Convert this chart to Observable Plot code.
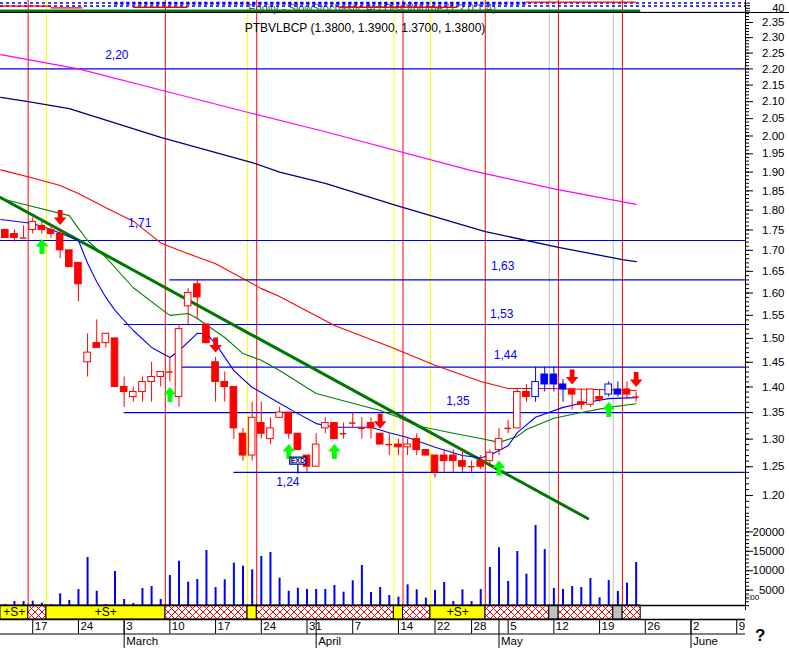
<!DOCTYPE html>
<html><head><meta charset="utf-8">
<script src="https://cdn.jsdelivr.net/npm/d3@7"></script>
<script src="https://cdn.jsdelivr.net/npm/@observablehq/plot@0.6"></script>
<style>
html,body{margin:0;padding:0;background:#fff;}
#chart{position:relative;width:789px;height:648px;overflow:hidden;background:#fff;}
#chart svg{position:absolute;left:0;}
.hline{position:absolute;left:0;width:789px;height:1px;background:#000;}
</style></head><body>
<svg width="0" height="0" style="position:absolute">
  <defs>
    <pattern id="hatch" patternUnits="userSpaceOnUse" width="7" height="7">
      <rect width="7" height="7" fill="#fff"></rect>
      <path d="M0,0L7,7M7,0L0,7" stroke="#ff0000" stroke-width="1"></path>
    </pattern>
  </defs>
</svg>
<div id="chart"></div>
<script>
// ---------------- DATA ----------------
const title = "PTBVLBCP (1.3800, 1.3900, 1.3700, 1.3800)";
const open  = [1.75,1.74,1.73,1.75,1.76,1.75,1.74,1.70,1.67,1.45, 1.49,1.49,1.50,1.40,1.38,1.39,1.41,1.42,1.43,1.38, 1.57,1.62,1.53,1.45,1.41,1.40,1.31,1.27,1.33,1.30, 1.34,1.35,1.31,1.27,1.25,1.32,1.33,1.31,1.33,1.32, 1.33,1.31,1.29,1.29,1.285,1.30,1.28,1.27,1.27,1.27, 1.26,1.25,1.26,1.26,1.28,1.32,1.32,1.39,1.38,1.425, 1.425,1.405,1.395,1.37,1.365,1.38,1.385,1.395,1.395,1.38];
const high  = [1.75,1.75,1.76,1.78,1.77,1.76,1.75,1.70,1.67,1.51, 1.54,1.51,1.50,1.42,1.40,1.42,1.45,1.43,1.46,1.53, 1.61,1.63,1.53,1.46,1.43,1.40,1.32,1.37,1.37,1.34, 1.36,1.35,1.31,1.27,1.31,1.34,1.33,1.33,1.35,1.34, 1.34,1.31,1.31,1.30,1.30,1.31,1.28,1.27,1.28,1.28, 1.28,1.26,1.27,1.28,1.32,1.335,1.395,1.405,1.44,1.44, 1.44,1.415,1.395,1.395,1.395,1.395,1.41,1.41,1.41,1.39];
const low   = [1.73,1.72,1.73,1.74,1.74,1.73,1.68,1.66,1.58,1.42, 1.48,1.48,1.40,1.36,1.37,1.37,1.37,1.40,1.41,1.36, 1.53,1.54,1.49,1.37,1.37,1.30,1.26,1.26,1.30,1.29, 1.34,1.30,1.28,1.24,1.25,1.31,1.30,1.30,1.32,1.30, 1.30,1.29,1.27,1.27,1.27,1.27,1.27,1.23,1.24,1.24, 1.24,1.24,1.245,1.25,1.27,1.31,1.32,1.37,1.37,1.39, 1.39,1.37,1.355,1.355,1.36,1.37,1.38,1.38,1.375,1.37];
const close = [1.73,1.73,1.73,1.77,1.75,1.74,1.70,1.66,1.62,1.47, 1.48,1.51,1.40,1.39,1.39,1.41,1.42,1.43,1.43,1.52, 1.60,1.59,1.49,1.41,1.40,1.32,1.27,1.34,1.31,1.32, 1.35,1.31,1.28,1.25,1.29,1.33,1.30,1.31,1.33,1.32, 1.32,1.29,1.29,1.285,1.29,1.28,1.27,1.24,1.26,1.26, 1.25,1.25,1.25,1.275,1.30,1.32,1.39,1.38,1.41,1.405, 1.405,1.395,1.385,1.365,1.395,1.375,1.405,1.385,1.385,1.38];
const volume = [1300,2060,2060,2140,1620,1290,4040,2320,5150,13400, 4720,1200,9790,2580,1550,5410,5930,2580,8760,12450, 7040,7730,15200,5670,7650,11930,11160,10230,13660,14690, 8070,4720,5490,5150,5150,5150,6180,4470,7400,11340, 4380,5670,3610,3180,6360,5070,2920,4900,6960,2060, 5070,2060,5150,10820,15900,7220,14950,9100,21650,15460, 5410,5150,5930,5670,7990,3010,7470,4640,6780,12110];
const blueCandles = [58,59,60,61,66,67];
const buySignals  = [4,18,31,36,54,66];
const sellSignals = [6,23,41,62,69];
const exDividend  = [32];

// moving averages (candle index, price)
const magentaIdx = [-0.5,8,17,27,35,51,60,69];
const magentaVal = [2.245,2.20,2.135,2.065,2.012,1.904,1.855,1.815];
const navyIdx = [-0.5,2.5,7,17,27,30,35,43,52.5,60.5,67.5,69];
const navyVal = [2.113,2.100,2.079,1.996,1.926,1.900,1.870,1.810,1.746,1.707,1.678,1.673];
const redIdx = [-0.5,3,6,8,11,14,17,19,23,28,30,36,42,47,52,55,60,69];
const redVal = [1.906,1.884,1.864,1.843,1.806,1.772,1.718,1.700,1.668,1.610,1.592,1.528,1.483,1.444,1.411,1.397,1.397,1.393];
const greenIdx = [-0.5,2,7,8,9,11,14,17,18,20,21,24,26,28,30,34,38,41,43,45,49,52,54,56,57,60,63,66,69];
const greenVal = [1.830,1.815,1.786,1.754,1.724,1.683,1.612,1.565,1.550,1.554,1.543,1.502,1.468,1.454,1.433,1.387,1.368,1.354,1.341,1.325,1.311,1.301,1.294,1.305,1.318,1.339,1.350,1.360,1.367];
const blueIdx = [-0.5,3,5,8,9,10,11,12,14,16,18,19,21,22,23,25,27,28,30,32,34,36,38,40,42,44,47,50,52,53,54,55,56,58,61,63,66,69];
const blueVal = [1.776,1.766,1.751,1.724,1.669,1.626,1.590,1.561,1.517,1.481,1.460,1.474,1.511,1.510,1.489,1.433,1.399,1.389,1.368,1.348,1.329,1.322,1.322,1.322,1.312,1.303,1.285,1.270,1.266,1.270,1.279,1.288,1.312,1.341,1.360,1.368,1.377,1.379];
const trendIdx = [-0.525,63.7];
const trendVal = [1.8325,1.1614];

// support / resistance levels
const levelVal   = [2.20,1.724,1.63,1.53,1.44,1.35,1.24];
const levelText  = ["2,20","1,71","1,63","1,53","1,44","1,35","1,24"];
const levelFrom  = [-0.525,-0.525,18,13,19,13,25];
const levelLabelAt = [12.2,14.7,54.4,54.3,54.7,49.5,30.9];

// signal band (segment start index, type)
const bandFrom = [-0.525,2.5,4.5,17.5,26.5,27.5,42.5,43.5,46.5,52.5,59.5,60.5,66.5,67.5];
const bandEnd  = 69.5;
const bandType = ["S","X","S","X","Y","X","Y","X","S","X","G","X","G","X"];

// axes
const priceTicks = [1.20,1.25,1.30,1.35,1.40,1.45,1.50,1.55,1.60,1.65,1.70,1.75,1.80,1.85,1.90,1.95,2.00,2.05,2.10,2.15,2.20,2.25,2.30,2.35];
const volumeTicks = [5000,10000,15000,20000];
const dateTickIdx = [3,8,13,18,23,28,33,38,43,47,51,55,60,65,70,75,80];
const dateTickText = ["17","24","3","10","17","24","31","7","14","22","28","5","12","19","26","2","9"];
const monthIdx = [13,34,54,75];
const monthText = ["March","April","May","June"];

// indicator strip (top)
const stripRedFrom = [-0.5,5,14,36.5,57];
const stripRedTo   = [5,8.5,20,49.5,69];
const stripRedVal  = [56,44,48,48,87];
const stripLabel = "Equity - SlowStochastic AccDist Volume (1,2,0,1,4)";

// ---------------- RENDER ----------------
const chart = document.getElementById("chart");
const W = 789, MR = 44;
const xMin = -0.525, xMax = 80.96;
const FONT = "'Liberation Sans', Arial, Helvetica, sans-serif";
const P_LO = 1.02626, P_HI = 2.3803;
const HATCH = "#fefefe";

function base(h, extra) {
  return Object.assign({
    width: W, height: h, marginTop: 0, marginBottom: 0, marginLeft: 0, marginRight: MR,
    x: {domain: [xMin, xMax], axis: null},
    color: {type: "identity"},
    style: {background: "transparent", fontFamily: FONT, fontSize: "11px", overflow: "visible", color: "#000"}
  }, extra);
}
function place(svg, top) {
  svg.style.position = "absolute"; svg.style.left = "0px"; svg.style.top = top + "px";
  svg.style.maxWidth = "none";
  chart.appendChild(svg);
  return svg;
}
const zip = (a, b) => a.map((v, k) => ({i: v, v: b[k]}));

const candles = open.map((o, i) => ({i, o, h: high[i], l: low[i], c: close[i], blue: blueCandles.includes(i)}));
const colOf = d => d.blue ? "#0000ff" : "#ff0000";
const typeColor = {X: "#ff0000", S: "#ffff00", Y: "#ffff00", G: "#c0c0c0"};
const segments = bandFrom.map((f, k) => ({from: f, to: k < bandFrom.length - 1 ? bandFrom[k + 1] : bandEnd, type: bandType[k]}));
const signalLines = segments.filter(s => s.from > 0).map(s => ({x: s.from, color: typeColor[s.type]}));
const levels = levelVal.map((v, k) => ({v, text: levelText[k], from: levelFrom[k], at: levelLabelAt[k]}));
const levelDy = [-14, -17, -14, -10, -12, -11, 10];
const HW = 0.36;

const downArrow = {draw(c) { c.moveTo(-2.4,-7.5); c.lineTo(2.4,-7.5); c.lineTo(2.4,0); c.lineTo(6.3,0); c.lineTo(0,7.5); c.lineTo(-6.3,0); c.lineTo(-2.4,0); c.closePath(); }};
const upArrow = {draw(c) { c.moveTo(-2.4,7.5); c.lineTo(2.4,7.5); c.lineTo(2.4,0); c.lineTo(6.3,0); c.lineTo(0,-7.5); c.lineTo(-6.3,0); c.lineTo(-2.4,0); c.closePath(); }};
const exdSymbol = {draw(c) { c.moveTo(-8,-3.5); c.lineTo(8,-3.5); c.lineTo(8,3.5); c.lineTo(-8,3.5); c.closePath(); c.moveTo(0,3.5); c.lineTo(0,13); }};

// --- top indicator strip ---
const strip = Plot.plot(base(13, {
  y: {domain: [0, 100], axis: "right", ticks: [20, 40, 60, 80], tickSize: 4, tickFormat: () => "", line: true, label: null},
  marks: [
    Plot.ruleX(signalLines, {x: "x", stroke: "color"}),
    Plot.text([stripLabel], {frameAnchor: "middle", dy: 1, dx: -1, fontSize: 11, fill: "#555"}),
    Plot.ruleY([80], {stroke: "#0000ff", strokeWidth: 1.5, strokeDasharray: "3,3"}),
    Plot.ruleY([57], {stroke: "#0000ff", strokeWidth: 1.5, strokeDasharray: "3,3"}),
    Plot.ruleY([78], {x1: 12, x2: 57, stroke: "#0000ff", strokeWidth: 3, strokeDasharray: "3,3"}),
    Plot.ruleY(stripRedVal.map((v, k) => ({v, a: stripRedFrom[k], b: stripRedTo[k]})), {y: "v", x1: "a", x2: "b", stroke: "#ff0000", strokeWidth: 1.3}),
    Plot.ruleY([21], {x1: xMin, x2: bandEnd, stroke: "#008000", strokeWidth: 2.5}),
    Plot.ruleY([9], {stroke: "#0000ff", strokeWidth: 1}),
    Plot.text([40], {y: d => d, text: d => String(d), frameAnchor: "right", dx: 39, textAnchor: "end", fontSize: 11})
  ]
}));
place(strip, 0);

// --- price panel ---
const priceY = {type: "log", domain: [P_LO, P_HI], label: null};
const price = Plot.plot(base(592, {
  y: Object.assign({}, priceY, {axis: "right", ticks: priceTicks, tickSize: 7, tickFormat: () => "", line: true}),
  marks: [
    Plot.ruleX(signalLines, {x: "x", stroke: "color"}),
    Plot.ruleY(levels, {y: "v", x1: "from", x2: xMax, stroke: "#0000dd", strokeWidth: 1.2}),
    Plot.line(zip(magentaIdx, magentaVal), {x: "i", y: "v", stroke: "#ff00ff", strokeWidth: 1.2, clip: true}),
    Plot.line(zip(navyIdx, navyVal), {x: "i", y: "v", stroke: "#000080", strokeWidth: 1.3, clip: true}),
    Plot.line(zip(redIdx, redVal), {x: "i", y: "v", stroke: "#ff0000", strokeWidth: 1.1, clip: true}),
    Plot.line(zip(trendIdx, trendVal), {x: "i", y: "v", stroke: "#007800", strokeWidth: 3, clip: true}),
    Plot.line(zip(greenIdx, greenVal), {x: "i", y: "v", stroke: "#008000", strokeWidth: 1.1, clip: true}),
    Plot.line(zip(blueIdx, blueVal), {x: "i", y: "v", stroke: "#0000ff", strokeWidth: 1.1, clip: true}),
    Plot.ruleX(candles, {x: "i", y1: "l", y2: "h", stroke: colOf, strokeWidth: 1}),
    Plot.rect(candles.filter(d => d.o !== d.c), {x1: d => d.i - HW, x2: d => d.i + HW, y1: "o", y2: "c",
      fill: d => d.c > d.o ? "white" : colOf(d), stroke: colOf, strokeWidth: 1}),
    Plot.ruleY(candles.filter(d => d.o === d.c), {y: "o", x1: d => d.i - HW, x2: d => d.i + HW, stroke: colOf, strokeWidth: 1.4}),
    Plot.dot(buySignals, {x: d => d, y: d => low[d], symbol: upArrow, fill: "#00ff00", stroke: "none", r: 6, dy: 12.5}),
    Plot.dot(sellSignals, {x: d => d, y: d => high[d], symbol: downArrow, fill: "#ff0000", stroke: "none", r: 6, dy: -12.5}),
    Plot.dot(exDividend, {x: d => d, y: d => low[d], symbol: exdSymbol, fill: "white", stroke: "#000080", strokeWidth: 1.3, r: 6, dy: 10.5}),
    Plot.text(exDividend, {x: d => d, y: d => low[d], text: () => "EXD", fill: "#000080", fontSize: 7, fontWeight: "bold", dy: 10.5}),
    ...levels.map((l, k) => Plot.text([l], {x: "at", y: "v", text: "text", fill: "#0000ff", fontSize: 12, dy: levelDy[k]})),
    Plot.text([title], {frameAnchor: "top", dy: 10, dx: -8, fontSize: 12, fill: "#000"}),
    Plot.text(priceTicks, {y: d => d, text: d => d3.format(".2f")(d), frameAnchor: "right", dx: 39, textAnchor: "end", fontSize: 11.5, fill: "#000"})
  ]
}));
place(price, 13);
const priceMinor = Plot.plot(base(592, {
  y: Object.assign({}, priceY, {axis: "right", ticks: d3.range(117, 239).map(k => k / 100), tickSize: 3, tickFormat: () => ""}),
  marks: []
}));
place(priceMinor, 13);

// --- volume panel ---
const volY = {domain: [0, 25000], label: null};
const vol = Plot.plot(base(97, {
  y: Object.assign({}, volY, {axis: "right", ticks: volumeTicks, tickSize: 7, tickFormat: () => "", line: true}),
  marks: [
    Plot.ruleX(volume.map((v, i) => ({i, v})), {x: "i", y1: 0, y2: "v", stroke: "#0000ff", strokeWidth: 2}),
    Plot.text(volumeTicks, {y: d => d, text: d => String(d), frameAnchor: "right", dx: 39, textAnchor: "end", fontSize: 11.5, fill: "#000"}),
    Plot.text(["\u25A100"], {frameAnchor: "bottom-right", dx: 0, dy: -10, textAnchor: "start", fontSize: 8, fill: "#000"})
  ]
}));
place(vol, 512);
const volMinor = Plot.plot(base(97, {
  y: Object.assign({}, volY, {axis: "right", ticks: d3.range(1000, 24001, 1000), tickSize: 3, tickFormat: () => ""}),
  marks: []
}));
place(volMinor, 512);

// --- signal band ---
const band = Plot.plot(base(14, {
  y: {domain: [0, 1], axis: null},
  marks: [
    Plot.rect(segments.filter(s => s.type === "X"), {x1: "from", x2: "to", y1: 0, y2: 1, fill: HATCH, stroke: "#000"}),
    Plot.rect(segments.filter(s => s.type !== "X"), {x1: "from", x2: "to", y1: 0, y2: 1, fill: s => typeColor[s.type], stroke: "#000"}),
    Plot.ruleY([0, 1], {stroke: "#000", strokeWidth: 1.5}),
    Plot.text(segments.filter(s => s.type === "S"), {x: s => (Math.max(s.from, xMin) + s.to) / 2, y: 0.5, text: () => "+S+", fontSize: 12, fill: "#000"})
  ]
}));
d3.select(band).selectAll("*").each(function() {
  const f = this.getAttribute("fill");
  if (f && f.toLowerCase() === HATCH) this.setAttribute("fill", "url(#hatch)");
});
place(band, 605);

// --- date axis ---
const axis = Plot.plot(base(29, {
  y: {domain: [0, 2], reverse: true, axis: null},
  marks: [
    Plot.ruleY([1], {stroke: "#000"}),
    Plot.ruleX(dateTickIdx, {x: d => d, y1: 0, y2: 1, stroke: "#000"}),
    Plot.ruleX(monthIdx, {x: d => d, y1: 0, y2: 2, stroke: "#000"}),
    Plot.text(dateTickIdx, {x: d => d, y: 0.5, text: (d, k) => dateTickText[k], textAnchor: "start", dx: 2, fontSize: 11.5, fill: "#000", clip: true}),
    Plot.text(monthIdx, {x: d => d, y: 1.5, text: (d, k) => monthText[k], textAnchor: "start", dx: 2, fontSize: 11.5, fill: "#000", clip: true}),
    Plot.text(["?"], {frameAnchor: "right", dx: 20, y: 1.1, fontSize: 17, fontWeight: "bold", fill: "#000"})
  ]
}));
place(axis, 619);

// frame line under the indicator strip
const hl = document.createElement("div"); hl.className = "hline"; hl.style.top = "12px"; chart.appendChild(hl);
</script></body></html>
